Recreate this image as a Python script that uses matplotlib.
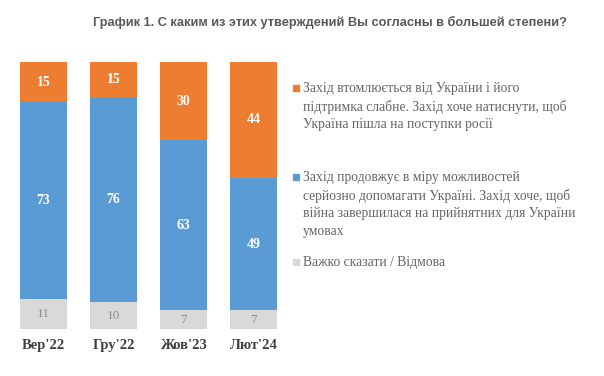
import matplotlib.pyplot as plt
from matplotlib.patches import Rectangle

# дані
periods = ["Вер'22", "Гру'22", "Жов'23", "Лют'24"]
hard_to_say = [11, 10, 7, 7]
keeps_helping = [73, 76, 63, 49]
west_tired = [15, 15, 30, 44]

lbl_tired = ("Захід втомлюється від України і його\n"
             "підтримка слабне. Захід хоче натиснути, щоб\n"
             "Україна пішла на поступки росії")
lbl_help = ("Захід продовжує в міру можливостей\n"
            "серйозно допомагати Україні. Захід хоче, щоб\n"
            "війна завершилася на прийнятних для України\n"
            "умовах")
lbl_dk = "Важко сказати / Відмова"

c_orange = '#ED7D31'
c_blue = '#5B9BD5'
c_gray = '#D9D9D9'

W, H = 604, 376
fig = plt.figure(figsize=(W / 100, H / 100), dpi=100)
ax = fig.add_axes([8.5 / W, 1 - 329 / H, 280 / W, 267 / H])

x = range(len(periods))
w = 0.67
b1 = ax.bar(x, hard_to_say, w, color=c_gray)
b2 = ax.bar(x, keeps_helping, w, bottom=hard_to_say, color=c_blue)
bottom3 = [a + b for a, b in zip(hard_to_say, keeps_helping)]
b3 = ax.bar(x, west_tired, w, bottom=bottom3, color=c_orange)

ax.bar_label(b1, label_type='center', color='#8C8C8C', fontsize=9.5, family='Liberation Serif')
ax.bar_label(b2, label_type='center', color='white', fontsize=10, fontweight='bold', family='Liberation Serif')
ax.bar_label(b3, label_type='center', color='white', fontsize=10, fontweight='bold', family='Liberation Serif')

ax.set_xlim(-0.5, 3.5)
ax.set_ylim(0, 99)
ax.set_xticks(list(x))
ax.set_xticklabels(periods, family='Liberation Serif', fontweight='bold', fontsize=10.5, color='#404040')
ax.tick_params(axis='x', length=0, pad=7)
ax.set_yticks([])
for s in ax.spines.values():
    s.set_visible(False)

fig.text(330 / W, 1 - 22 / H, "График 1. С каким из этих утверждений Вы согласны в большей степени?",
         ha='center', va='center', family='Liberation Sans', fontweight='bold', fontsize=9.2, color='#595959')

# легенда вручну: маркер на рівні першого рядка, відступи між пунктами різні
entries = [(lbl_tired, c_orange, 88), (lbl_help, c_blue, 177), (lbl_dk, c_gray, 262)]
for text, col, yline in entries:
    fig.patches.append(Rectangle((293 / W, 1 - (yline + 3) / H), 6 / W, 6 / H,
                                 transform=fig.transFigure, color=col, figure=fig))
    fig.text(303 / W, 1 - (yline - 6) / H, text, ha='left', va='top',
             family='Liberation Serif', fontsize=9.8, color='#666666', linespacing=1.45)

fig.savefig('out.png', dpi=100)
